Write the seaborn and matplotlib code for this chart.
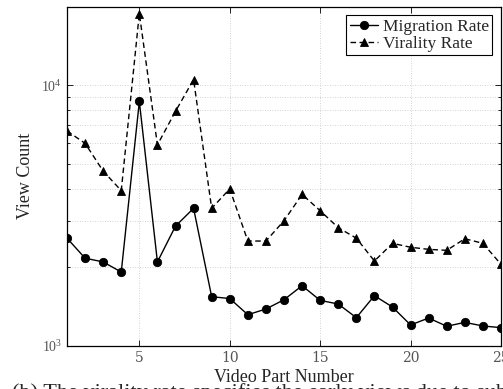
import numpy as np
import pandas as pd
import matplotlib
matplotlib.use("Agg")
import matplotlib.pyplot as plt
from matplotlib.ticker import LogLocator, NullFormatter, FixedLocator
import seaborn as sns

# Per-part view counts for the two rates
parts = list(range(1, 26))
migration_rate = [2590, 2170, 2100, 1920, 8650, 2100, 2880, 3370, 1545, 1520,
                  1318, 1386, 1504, 1702, 1496, 1448, 1284, 1559, 1410, 1204,
                  1280, 1190, 1232, 1193, 1176]
virality_rate = [6670, 5980, 4680, 3940, 18800, 5900, 7930, 10500, 3370, 4000,
                 2525, 2525, 3020, 3810, 3300, 2840, 2590, 2117, 2474, 2390,
                 2346, 2326, 2577, 2474, 2056]
series_names = ["Migration Rate", "Virality Rate"]
x_ticks = [5, 10, 15, 20, 25]
caption = "(b) The virality rate specifies the early views due to sub"

df = pd.DataFrame({
    "part": parts * 2,
    "views": migration_rate + virality_rate,
    "series": [series_names[0]] * len(parts) + [series_names[1]] * len(parts),
})

sns.set_theme(style="ticks")
plt.rcParams["font.family"] = ["Liberation Serif", "DejaVu Serif"]
plt.rcParams["mathtext.fontset"] = "cm"

fig = plt.figure(figsize=(5.03, 3.89), dpi=100)
ax = fig.add_axes([67 / 503, 1 - 346 / 389, 434 / 503, (346 - 6.5) / 389])

sns.lineplot(data=df, x="part", y="views", style="series",
             markers={series_names[0]: "o", series_names[1]: "^"},
             dashes={series_names[0]: "", series_names[1]: (4, 2.5)},
             color="black", linewidth=1.0, markersize=6,
             markeredgecolor="black", markeredgewidth=0.6, ax=ax)

ax.set_yscale("log")
ax.set_xlim(1, 25)
ax.set_ylim(1000, 20000)
ax.xaxis.set_major_locator(FixedLocator(x_ticks))
ax.yaxis.set_major_locator(LogLocator(base=10))
ax.yaxis.set_minor_locator(LogLocator(base=10, subs=np.arange(2, 10)))
ax.yaxis.set_minor_formatter(NullFormatter())

ax.grid(True, which="major", axis="x", linestyle=(0, (1, 2)), color="#c4c4c4", linewidth=0.6)
ax.grid(True, which="both", axis="y", linestyle=(0, (1, 2)), color="#c4c4c4", linewidth=0.6)
ax.set_axisbelow(True)

for s in ax.spines.values():
    s.set_linewidth(0.9)
    s.set_color("black")

ax.tick_params(which="both", direction="in", top=True, right=True,
               colors="black", labelcolor="#555555", labelsize=10)
ax.tick_params(which="major", length=4, width=0.6)
ax.tick_params(which="minor", length=2.5, width=0.6)
for lab in ax.get_xticklabels():
    lab.set_family("DejaVu Serif")

ax.set_xlabel("Video Part Number", fontsize=13, labelpad=3)
ax.set_ylabel("View Count", fontsize=13, labelpad=5)

leg = ax.legend(loc="upper right", fontsize=12.5, frameon=True, fancybox=False,
                edgecolor="black", framealpha=1, handlelength=1.6,
                handletextpad=0.3, borderpad=0.2, labelspacing=0.05,
                borderaxespad=0.5)
leg.get_frame().set_linewidth(0.8)

fig.text(12 / 503, 1 - 383 / 389, caption, ha="left", va="top", fontsize=16)

fig.savefig("out.png", dpi=100)
